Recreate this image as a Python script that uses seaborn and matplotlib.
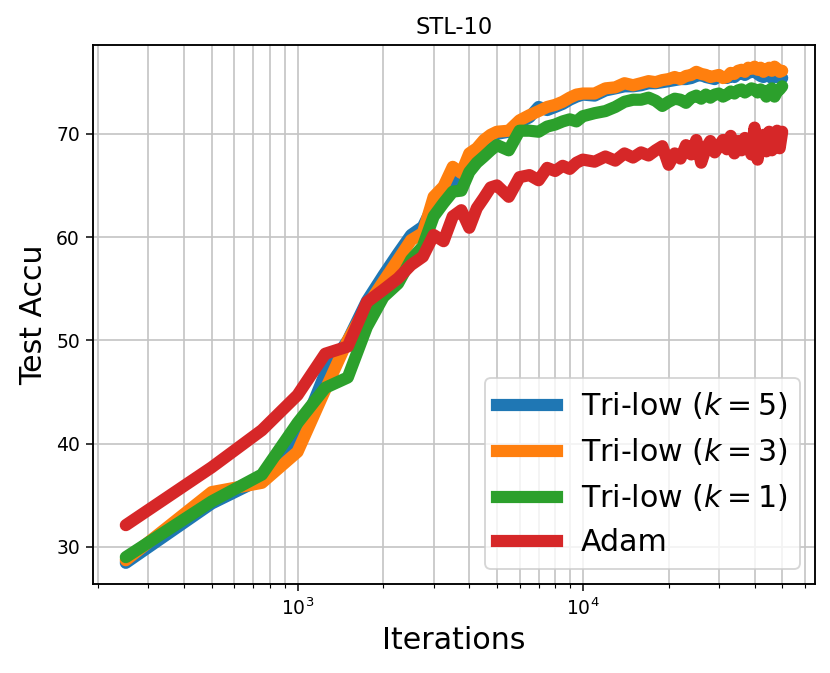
import numpy as np
import pandas as pd
import matplotlib
matplotlib.use("Agg")
import matplotlib.pyplot as plt
import seaborn as sns

iterations = [250, 500, 750, 1000, 1250, 1500, 1750, 2000, 2250, 2500,
              2750, 3000, 3250, 3500, 3750, 4000, 4250, 4500, 4750, 5000,
              5500, 6000, 6500, 7000, 7500, 8000, 8500, 9000, 9500, 10000,
              11000, 12000, 13000, 14000, 15000, 16000, 17000, 18000, 19000, 20000,
              21000, 22000, 23000, 24000, 25000, 26000, 27000, 28000, 29000, 30000,
              31000, 32000, 33000, 34000, 35000, 36000, 37000, 38000, 39000, 40000,
              41000, 42000, 43000, 44000, 45000, 46000, 47000, 48000, 49000, 50000]

tri_k5 = [28.45, 34.2, 36.6, 40.2, 46.8, 50.0, 53.8, 56.3, 58.4, 60.2,
          61.0, 63.1, 64.3, 65.6, 65.0, 67.8, 68.2, 68.8, 69.5, 70.0,
          70.2, 71.1, 71.6, 72.6, 72.3, 72.6, 72.9, 73.3, 73.6, 73.8,
          73.7, 74.2, 74.4, 74.6, 74.6, 74.7, 74.9, 74.9, 75.0, 75.1,
          75.2, 75.3, 75.3, 75.4, 75.6, 75.7, 75.5, 75.4, 75.3, 75.6,
          75.5, 75.4, 75.6, 75.5, 75.8, 75.9, 75.7, 75.9, 76.0, 76.1,
          75.8, 75.6, 75.5, 75.8, 75.6, 75.4, 75.7, 75.5, 75.6, 75.4]

tri_k3 = [28.7, 35.3, 36.2, 39.2, 45.2, 50.0, 53.3, 55.7, 57.8, 59.7,
          60.4, 63.9, 64.9, 66.8, 66.2, 68.1, 68.6, 69.4, 69.9, 70.2,
          70.3, 71.3, 71.8, 72.2, 72.6, 72.8, 73.1, 73.5, 73.8, 73.9,
          73.9, 74.4, 74.5, 74.9, 74.7, 74.9, 75.1, 75.0, 75.2, 75.3,
          75.5, 75.3, 75.6, 75.7, 76.0, 75.8, 75.7, 75.5, 75.6, 75.7,
          75.4, 75.5, 75.9, 75.8, 76.1, 76.2, 76.0, 76.4, 76.3, 76.5,
          76.2, 76.4, 76.0, 76.2, 76.4, 76.1, 76.5, 76.3, 76.0, 76.1]

tri_k1 = [29.0, 34.4, 37.0, 42.0, 45.4, 46.4, 51.3, 54.2, 55.5, 57.8,
          59.1, 62.0, 63.3, 64.4, 64.5, 66.3, 67.2, 67.8, 68.4, 68.9,
          68.4, 70.3, 70.3, 70.2, 70.7, 70.9, 71.2, 71.4, 71.2, 71.7,
          72.0, 72.2, 72.6, 73.1, 73.3, 73.3, 73.5, 73.2, 72.7, 73.1,
          73.4, 73.3, 73.0, 73.5, 73.7, 73.4, 73.8, 73.5, 73.8, 73.9,
          73.6, 73.8, 74.1, 73.9, 74.2, 74.3, 74.0, 74.2, 74.4, 74.3,
          74.0, 74.3, 74.1, 73.6, 74.2, 74.4, 73.6, 74.1, 74.3, 74.6]

adam = [32.1, 37.7, 41.3, 44.7, 48.7, 49.4, 53.7, 54.9, 56.0, 57.3,
        58.1, 60.2, 59.6, 62.0, 62.6, 60.9, 62.8, 63.8, 64.8, 65.0,
        63.9, 65.8, 66.0, 65.5, 66.7, 66.4, 66.9, 66.6, 67.2, 67.5,
        67.3, 67.8, 67.4, 68.1, 67.7, 68.2, 67.9, 68.4, 68.8, 67.0,
        68.1, 67.6, 68.9, 68.0, 69.4, 67.2, 68.6, 69.3, 68.2, 68.8,
        69.4, 68.5, 69.8, 68.1, 69.3, 68.4, 69.6, 69.1, 68.0, 70.6,
        67.5, 69.5, 69.9, 68.3, 70.2, 68.4, 69.5, 70.3, 68.6, 70.2]

labels = [r"Tri-low ($k=5$)", r"Tri-low ($k=3$)", r"Tri-low ($k=1$)", "Adam"]
colors = ["#1f77b4", "#ff7f0e", "#2ca02c", "#d62728"]
series = [tri_k5, tri_k3, tri_k1, adam]

fig = plt.figure(figsize=(830 / 135, 673 / 135), dpi=135)
ax = fig.add_axes([93 / 830, 1 - 584 / 673, (815 - 93) / 830, (584 - 45) / 673])

for lab, col, vals in zip(labels, colors, series):
    df = pd.DataFrame({"Iterations": iterations, "acc": vals})
    sns.lineplot(data=df, x="Iterations", y="acc", color=col, linewidth=6.5,
                 label=lab, ax=ax, legend=False,
                 solid_joinstyle="round", solid_capstyle="round")

ax.set_xscale("log")
ax.set_ylim(26.4, 78.6)
ax.set_yticks([30, 40, 50, 60, 70])
ax.grid(True, which="both", color="#c4c4c4", linewidth=0.9)
ax.set_axisbelow(True)
for s in ax.spines.values():
    s.set_color("black")
    s.set_linewidth(1.0)
ax.tick_params(axis="both", which="major", labelsize=10)
ax.set_xlabel("Iterations", fontsize=16)
ax.set_ylabel("Test Accu", fontsize=16)
ax.set_title("STL-10", fontsize=12)
leg = ax.legend(loc="lower right", fontsize=16)
for h in leg.get_lines():
    h.set_solid_capstyle("projecting")

fig.savefig("out.png", dpi=135)
